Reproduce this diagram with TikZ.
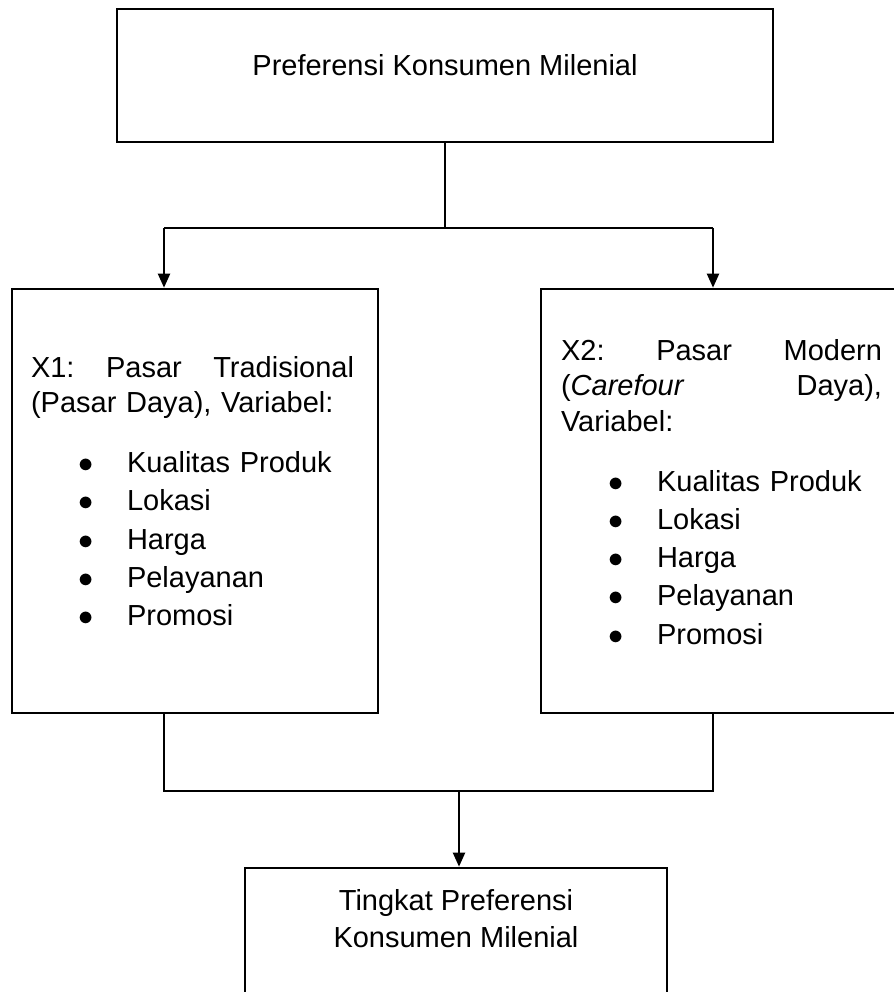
\documentclass[tikz,border=0pt]{standalone}
\usepackage{fontspec}
\setmainfont{Liberation Sans}
\usetikzlibrary{positioning,arrows.meta,calc}

\newcommand{\butir}[1]{\hspace*{0.95cm}\makebox[0.97cm][l]{$\bullet$}#1}

\begin{document}
\begin{tikzpicture}[x=1cm, y=1cm, font={\fontsize{16.5}{20.2}\selectfont},
  box/.style={draw, line width=1.5pt, inner sep=0pt},
  txt/.style={inner sep=0pt, align=left},
  conn/.style={line width=0.75pt},
  arr/.style={-{Triangle[length=0.28cm, width=0.24cm]}, line width=1.2pt}]
\useasboundingbox (0,0) rectangle (17.88,-19.84);
\node[box, minimum width=13.12cm, minimum height=2.66cm, text depth=0.44cm] (pref) at (8.9,-1.51) {Preferensi Konsumen Milenial};
\node[box, minimum width=7.32cm, minimum height=8.48cm] (x1) at (3.9,-10.02) {};
\node[box, minimum width=7.32cm, minimum height=8.48cm] (x2) at (14.48,-10.02) {};
\node[box, minimum width=8.44cm, minimum height=2.7cm] (tingkat) at (9.12,-18.71) {};
% isi kotak
\node[txt, text width=6.46cm, anchor=north west] (x1txt) at ([xshift=0.4cm, yshift=-1.36cm]x1.north west)
  {\makebox[6.46cm][l]{X1:\hfill Pasar\hfill Tradisional}\\(Pasar Daya), Variabel:\\[0.49cm]
   \butir{Kualitas Produk}\\[0.055cm]\butir{Lokasi}\\[0.055cm]\butir{Harga}\\[0.055cm]\butir{Pelayanan}\\[0.055cm]\butir{Promosi}};
\node[txt, text width=6.42cm, anchor=north west] (x2txt) at ([xshift=0.42cm, yshift=-1.02cm]x2.north west)
  {\makebox[6.42cm][l]{X2:\hfill Pasar\hfill Modern}\\\makebox[6.42cm][l]{(\textit{Carefour}\hfill Daya),}\\Variabel:\\[0.49cm]
   \butir{Kualitas Produk}\\[0.055cm]\butir{Lokasi}\\[0.055cm]\butir{Harga}\\[0.055cm]\butir{Pelayanan}\\[0.055cm]\butir{Promosi}};
\node[txt, align=center, anchor=north] (tingkattxt) at ([yshift=-0.44cm]tingkat.north) {Tingkat Preferensi\\[0.03cm]Konsumen Milenial};
% garis penghubung
\coordinate (kiri) at (3.28,-4.56);
\coordinate (kanan) at (14.26,-4.56);
\coordinate (kiribawah) at (3.28,-15.82);
\coordinate (kananbawah) at (14.26,-15.82);
\coordinate (gabung) at (9.18,-15.82);
\draw[conn] (pref.south) -- (pref.south |- kiri);
\draw[conn] (kiri) -- (kanan);
\draw[arr] (kiri) -- (kiri |- x1.north);
\draw[arr] (kanan) -- (kanan |- x2.north);
\draw[conn] (kiri |- x1.south) -- (kiribawah) -- (kananbawah) -- (kanan |- x2.south);
\draw[arr] (gabung) -- (gabung |- tingkat.north);
\end{tikzpicture}
\end{document}
